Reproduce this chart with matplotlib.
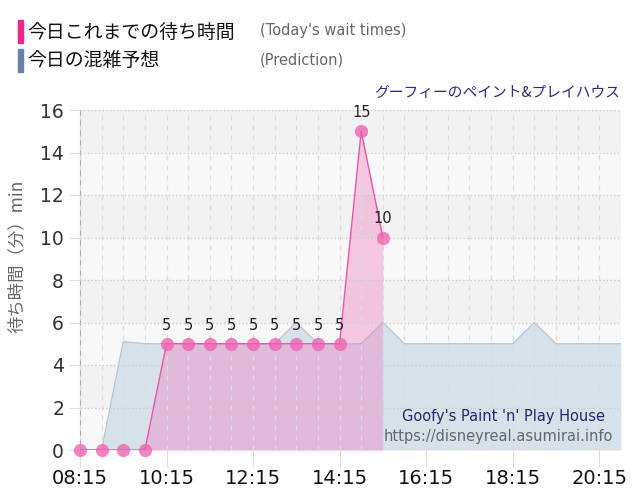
import matplotlib
matplotlib.use('Agg')
import matplotlib.pyplot as plt
from matplotlib.patches import Rectangle

plt.rcParams['font.family'] = ['Noto Sans CJK JP', 'DejaVu Sans']

# today's actual wait times (every 30 min)
actual_times = ["08:15", "08:45", "09:15", "09:45", "10:15", "10:45", "11:15", "11:45",
                "12:15", "12:45", "13:15", "13:45", "14:15", "14:45", "15:15"]
actual_vals = [0, 0, 0, 0, 5, 5, 5, 5, 5, 5, 5, 5, 5, 15, 10]

# prediction for the day
pred_times = ["08:15", "08:45", "09:15", "09:45", "10:15", "10:45", "11:15", "11:45",
              "12:15", "12:45", "13:15", "13:45", "14:15", "14:45", "15:15", "15:45",
              "16:15", "16:45", "17:15", "17:45", "18:15", "18:45", "19:15", "19:45",
              "20:15", "20:45"]
pred_vals = [0, 0, 5.1, 5, 5, 5, 5, 5, 5, 5, 6, 5, 5, 5, 6, 5,
             5, 5, 5, 5, 5, 6, 5, 5, 5, 5]

tick_labels = ["08:15", "10:15", "12:15", "14:15", "16:15", "18:15", "20:15"]


def to_hours(t):
    h, m = t.split(':')
    return int(h) + int(m) / 60


ax_x = [to_hours(t) for t in actual_times]
px = [to_hours(t) for t in pred_times]

fig = plt.figure(figsize=(6.4, 5.0), dpi=100)
ax = fig.add_axes([0.125, 0.1, 0.845, 0.68])

# alternating background bands
for i in range(8):
    ax.axhspan(i * 2, i * 2 + 2, color='#f8f8f8' if i % 2 == 0 else '#f2f2f2', zorder=0, lw=0)

# prediction area
ax.fill_between(px, pred_vals, 0, color='#d6e1ea', zorder=1, lw=0)
ax.plot(px, pred_vals, color='#b8c7d4', lw=1, zorder=1.5, solid_joinstyle='round')

# actual area
ax.fill_between(ax_x, actual_vals, 0, color='#f080c0', alpha=0.4, zorder=2, lw=0)
ax.plot(ax_x, actual_vals, color='#f050a8', lw=1, zorder=3)
ax.plot(ax_x, actual_vals, 'o', ms=9.5, color='#f060b0', alpha=0.78, mec='none',
        zorder=4, clip_on=False)
for x, v in zip(ax_x, actual_vals):
    if v > 0:
        ax.annotate(str(v), (x, v), xytext=(0, 8), textcoords='offset points',
                    ha='center', va='bottom', fontsize=10.5, color='#222222',
                    family='DejaVu Sans')

ax.set_xlim(8.25, 20.75)
ax.set_ylim(0, 16)
ax.set_yticks(range(0, 17, 2))
ax.set_xticks([to_hours(t) for t in tick_labels])
ax.set_xticklabels(tick_labels, fontsize=14, color='#111111', family='DejaVu Sans')
ax.set_xticks([to_hours(t) for t in pred_times], minor=True)
ax.tick_params(axis='y', labelsize=13.5, labelcolor='#333333', color='#dddddd', length=8)
ax.tick_params(axis='x', which='major', color='#dddddd', length=12, pad=2)
ax.tick_params(axis='x', which='minor', length=0)
for lab in ax.get_yticklabels():
    lab.set_family('DejaVu Sans')

ax.grid(axis='y', color='#cccccc', linestyle=':', lw=1, zorder=0.5)
ax.grid(axis='x', which='both', color='#dcdcdc', linestyle=(0, (4, 4)), lw=0.9, zorder=0.5)
ax.set_axisbelow(False)
for s in ['top', 'right', 'bottom']:
    ax.spines[s].set_visible(False)
ax.spines['left'].set_color('#aaaaaa')

ax.set_ylabel('待ち時間（分）min', fontsize=12.5, color='#666666')
ax.yaxis.set_label_coords(-0.1, 0.57)

ax.text(0.971, 0.1, "Goofy's Paint 'n' Play House", transform=ax.transAxes,
        ha='right', va='center', fontsize=10.5, color='#1f2a6e', family='DejaVu Sans')
ax.text(0.985, 0.041, "https://disneyreal.asumirai.info", transform=ax.transAxes,
        ha='right', va='center', fontsize=10.5, color='#666666', family='DejaVu Sans')

# legend at top
fig.patches.append(Rectangle((18 / 640, 1 - 43 / 500), 5 / 640, 23 / 500,
                             transform=fig.transFigure, color='#f0288c'))
fig.patches.append(Rectangle((18 / 640, 1 - 72 / 500), 5 / 640, 23 / 500,
                             transform=fig.transFigure, color='#6a7fa6'))
fig.text(27 / 640, 1 - 32 / 500, '今日これまでの待ち時間', fontsize=13.6, va='center', color='#111111')
fig.text(27 / 640, 1 - 60 / 500, '今日の混雑予想', fontsize=13.6, va='center', color='#111111')
fig.text(260 / 640, 1 - 31 / 500, "(Today's wait times)", fontsize=10.5, va='center',
         color='#666666', family='DejaVu Sans')
fig.text(260 / 640, 1 - 60 / 500, '(Prediction)', fontsize=10.5, va='center',
         color='#666666', family='DejaVu Sans')
fig.text(620 / 640, 1 - 93 / 500, 'グーフィーのペイント&プレイハウス', fontsize=10.6,
         ha='right', va='center', color='#2a2a80')

fig.savefig('out.png', dpi=100)
